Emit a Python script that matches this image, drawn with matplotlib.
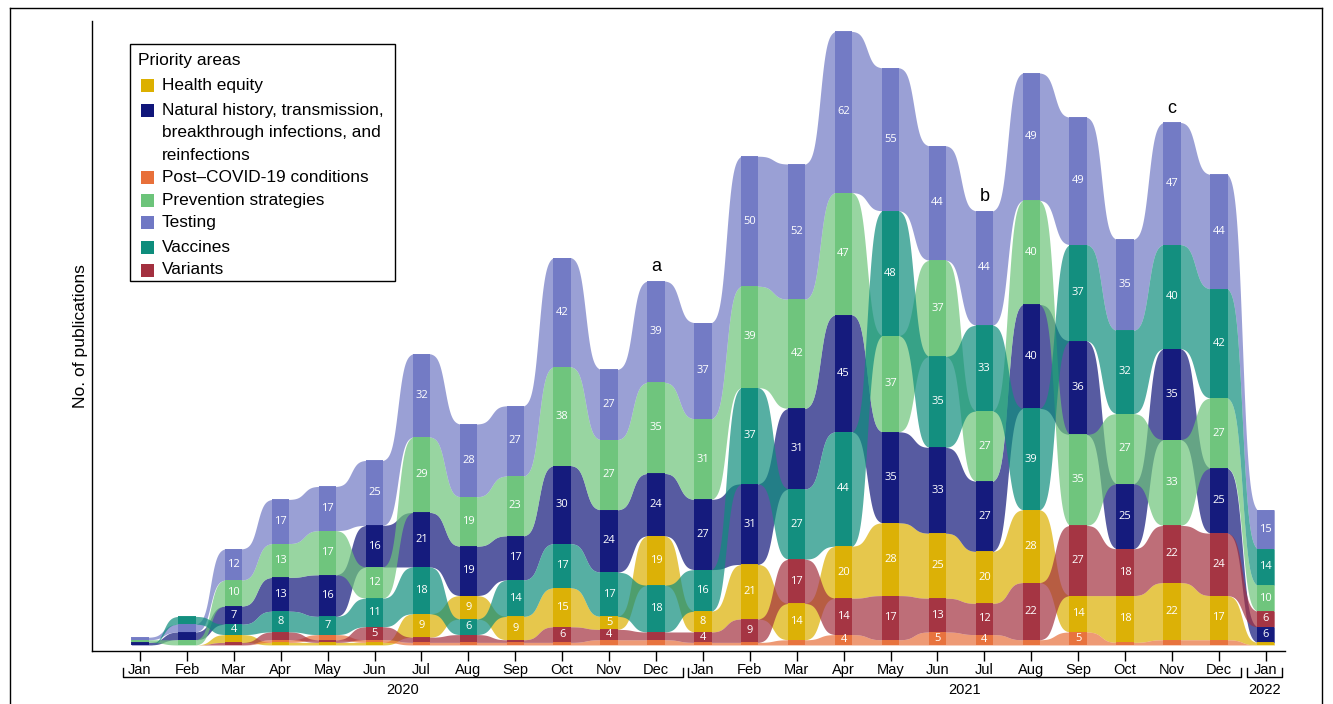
import numpy as np
import matplotlib.pyplot as plt
from matplotlib.patches import Rectangle
from matplotlib.lines import Line2D

plt.rcParams['font.family'] = ['Liberation Sans', 'DejaVu Sans']

# monthly publication counts, Jan 2020 - Jan 2022
months = ['Jan', 'Feb', 'Mar', 'Apr', 'May', 'Jun', 'Jul', 'Aug', 'Sep', 'Oct', 'Nov', 'Dec',
          'Jan', 'Feb', 'Mar', 'Apr', 'May', 'Jun', 'Jul', 'Aug', 'Sep', 'Oct', 'Nov', 'Dec',
          'Jan']
health_equity = [0, 0, 3, 1, 1, 1, 9, 9, 9, 15, 5, 19,
                 8, 21, 14, 20, 28, 25, 20, 28, 14, 18, 22, 17, 1]
natural_history = [1, 3, 7, 13, 16, 16, 21, 19, 17, 30, 24, 24,
                   27, 31, 31, 45, 35, 33, 27, 40, 36, 25, 35, 25, 6]
post_covid = [0, 0, 0, 1, 2, 1, 1, 1, 1, 1, 2, 2,
              1, 1, 2, 4, 2, 5, 4, 2, 5, 1, 2, 2, 0]
prevention = [1, 2, 10, 13, 17, 12, 29, 19, 23, 38, 27, 35,
              31, 39, 42, 47, 37, 37, 27, 40, 35, 27, 33, 27, 10]
testing = [1, 3, 12, 17, 17, 25, 32, 28, 27, 42, 27, 39,
           37, 50, 52, 62, 55, 44, 44, 49, 49, 35, 47, 44, 15]
vaccines = [0, 3, 4, 8, 7, 11, 18, 6, 14, 17, 17, 18,
            16, 37, 27, 44, 48, 35, 33, 39, 37, 32, 40, 42, 14]
variants = [0, 0, 1, 3, 1, 5, 2, 3, 1, 6, 4, 3,
            4, 9, 17, 14, 17, 13, 12, 22, 27, 18, 22, 24, 6]

names = ['Health equity',
         'Natural history, transmission,\nbreakthrough infections, and\nreinfections',
         'Post\u2013COVID-19 conditions', 'Prevention strategies', 'Testing',
         'Vaccines', 'Variants']
colors = ['#DCB000', '#10167A', '#E8703A', '#6CC47A', '#7078C4', '#0E8D7C', '#A3303F']
series = [health_equity, natural_history, post_covid, prevention, testing, vaccines, variants]

years = ['2020', '2021', '2022']
notes = {11: 'a', 18: 'b', 22: 'c'}

W, H = 1333, 704
fig = plt.figure(figsize=(W / 100, H / 100), dpi=100)


def fx(x):
    return x / W


def fy(y):
    return 1 - y / H


ax = fig.add_axes([fx(92), fy(650.7), fx(1285) - fx(92), fy(21) - fy(650.7)])
ax.set_xlim(-1.023, 24.41)
ax.set_ylim(-2.2, 240)

vals = np.array(series, dtype=float)          # (7, 25)
ncat, nm = vals.shape

# rank categories within each month: smallest at the bottom, ties alphabetical
lo = np.zeros_like(vals)
for j in range(nm):
    order = sorted(range(ncat), key=lambda c: (vals[c, j], c))
    acc = 0.0
    for c in order:
        lo[c, j] = acc
        acc += vals[c, j]
hi = lo + vals

w = 0.185   # half width of the monthly bars
k = 9.0


def ease(t):
    f = 1 / (1 + np.exp(-k * (t - 0.5)))
    f0 = 1 / (1 + np.exp(k * 0.5))
    return (f - f0) / (1 - 2 * f0)


# smooth ribbons between months
for c in range(ncat):
    xs, ylo, yhi = [], [], []
    for j in range(nm):
        xs += [j - w, j + w]
        ylo += [lo[c, j]] * 2
        yhi += [hi[c, j]] * 2
        if j < nm - 1:
            t = np.linspace(0, 1, 60)[1:-1]
            s = ease(t)
            xs += list(j + w + t * (1 - 2 * w))
            ylo += list(lo[c, j] + s * (lo[c, j + 1] - lo[c, j]))
            yhi += list(hi[c, j] + s * (hi[c, j + 1] - hi[c, j]))
    ax.fill_between(xs, ylo, yhi, color=colors[c], alpha=0.7, lw=0)

# monthly bars and counts
for c in range(ncat):
    for j in range(nm):
        v = vals[c, j]
        if v <= 0:
            continue
        ax.bar(j, v, bottom=lo[c, j], width=2 * w, color=colors[c], lw=0, alpha=0.92)
        if v >= 4:
            ax.text(j, lo[c, j] + v / 2, f'{int(v)}', ha='center', va='center',
                    color='white', fontsize=8, family=['Open Sans', 'DejaVu Sans'])

totals = vals.sum(axis=0)
for j, lab in notes.items():
    ax.annotate(lab, (j, totals[j]), xytext=(0, 4), textcoords='offset points',
                ha='center', va='bottom', fontsize=13)

for sp in ['top', 'right']:
    ax.spines[sp].set_visible(False)
ax.spines['left'].set_linewidth(1)
ax.spines['bottom'].set_linewidth(1)
ax.set_yticks([])
ax.set_xticks(range(nm))
ax.set_xticklabels(months, fontsize=10.5)
ax.tick_params(axis='x', direction='out', length=7, width=1, pad=2)
ax.set_ylabel('No. of publications', fontsize=12.6, labelpad=3)

# year brackets under the month labels
tr = ax.get_xaxis_transform()
brackets = [(-0.36, 11.57), (11.68, 23.47), (23.6, 24.35)]
yb, yt = -0.0418, -0.0275
for (a, b), yr in zip(brackets, years):
    ax.plot([a, a, b, b], [yt, yb, yb, yt], color='black', lw=1,
            transform=tr, clip_on=False)
    ax.text((a + b) / 2, -0.0625, yr, transform=tr, ha='center', va='center',
            fontsize=10.5)

# legend
fig.add_artist(Rectangle((fx(130), fy(281)), fx(395) - fx(130), fy(44) - fy(281),
                         transform=fig.transFigure, fill=False, ec='black', lw=1))
fig.text(fx(138), fy(60.5), 'Priority areas', fontsize=12.5, va='center')
rows = [85.7, 110, 177, 201, 223, 247, 270]
for c, y in enumerate(rows):
    fig.add_artist(Rectangle((fx(141), fy(y + 6.5)), fx(13), 13 / H,
                             transform=fig.transFigure, color=colors[c], lw=0))
    lines = names[c].split('\n')
    for i, ln in enumerate(lines):
        fig.text(fx(162), fy(y + i * 22.7), ln, fontsize=12.4, va='center')

# outer frame
for xs_, ys_ in [([10, 10], [8, 704]), ([10, 1322], [8, 8]), ([1322, 1322], [8, 704])]:
    fig.add_artist(Line2D([fx(v) for v in xs_], [fy(v) for v in ys_],
                          color='black', lw=1, transform=fig.transFigure))

fig.savefig('out.png', dpi=100)
